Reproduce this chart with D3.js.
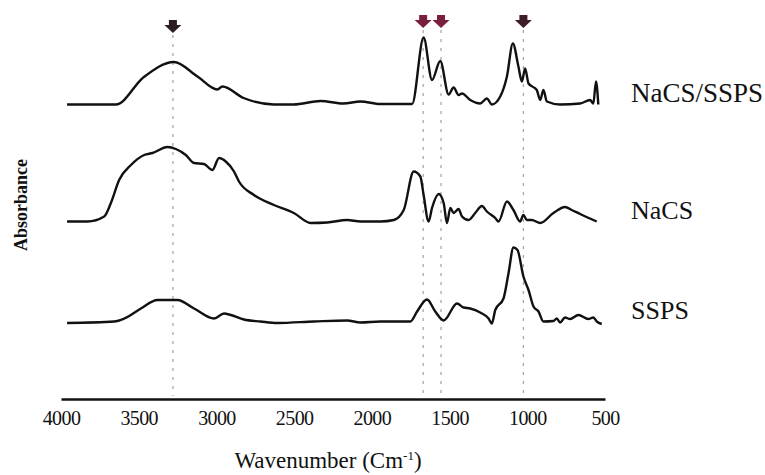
<!DOCTYPE html>
<html lang="en">
<head>
    <meta charset="UTF-8">
    <title>FTIR spectra</title>
    <script src="https://d3js.org/d3.v7.min.js"></script>
    <style>
        body {
            margin: 0;
            background: #fff;
            font-family: "Liberation Serif", "Times New Roman", serif;
        }
    </style>
</head>
<body>
    <div id="chart"></div>
    <script>
        // spectra: [wavenumber, absorbance above own baseline]
        const nacsSsps = [
            [3961, 0], [3647, 0], [3467, 2.75], [3274, 4.25], [3122, 2.8], [2994, 1.5],
            [2962, 1.8], [2825, 0.65], [2632, 0], [2504, 0], [2330, 0.35], [2183, 0.1],
            [2073, 0.3], [1945, 0.05], [1741, 0.05], [1667, 6.7], [1613, 2.45], [1560, 4.35],
            [1506, 1.0], [1474, 1.7], [1442, 0.95], [1420, 1.1], [1367, 0.45], [1303, 0.1],
            [1260, 0.6], [1228, 0], [1174, 0.8], [1131, 2.8], [1093, 6.1], [1057, 3.8],
            [1035, 2.3], [1014, 3.6], [992, 2.1], [939, 1.45], [917, 0.45], [896, 1.45],
            [874, 0.3], [789, 0], [660, 0.1], [596, 0.45], [575, 0.1], [558, 2.3], [543, 0]
        ];
        const nacs = [
            [3961, 0], [3829, 0], [3722, 0.5], [3679, 1.85], [3626, 4.15], [3550, 5.65],
            [3465, 6.65], [3411, 6.85], [3315, 7.45], [3261, 7.25], [3197, 6.65], [3144, 5.85],
            [3080, 5.75], [3026, 5.15], [2983, 6.35], [2940, 6.0], [2887, 5.0], [2855, 4.0],
            [2759, 2.65], [2630, 1.65], [2502, 0.85], [2394, -0.15], [2287, -0.1], [2159, 0.15],
            [2073, 0], [1945, 0], [1859, 0.15], [1795, 1.15], [1731, 5.0], [1688, 4.5],
            [1667, 2.65], [1635, 0], [1613, 1.35], [1570, 2.75], [1538, 1.85], [1517, -0.15],
            [1495, 1.35], [1474, 0.85], [1442, 1.25], [1420, 0.5], [1378, 0.15], [1335, 0.85],
            [1292, 1.55], [1260, 1.0], [1206, 0.35], [1185, 0], [1131, 2.0], [1089, 1.15],
            [1046, 0], [1025, 0.65], [1003, 0.15], [971, 0.15], [917, -0.15], [832, 0.85],
            [757, 1.45], [714, 1.15], [660, 0.75], [553, 0]
        ];
        const ssps = [
            [3961, -0.1], [3658, 0.05], [3593, 0.35], [3486, 1.35], [3379, 2.2], [3251, 2.2],
            [3144, 1.35], [3015, 0.35], [2951, 0.85], [2908, 0.7], [2823, 0.25], [2716, 0.05],
            [2608, -0.1], [2373, 0.05], [2159, 0.15], [2073, -0.05], [1945, 0.05], [1752, 0.05],
            [1709, 1.05], [1645, 2.25], [1592, 1.05], [1538, 0.15], [1452, 1.85], [1410, 1.45],
            [1367, 1.35], [1303, 0.95], [1249, 0.35], [1228, -0.15], [1206, 1.2], [1153, 2.35],
            [1121, 4.85], [1089, 7.45], [1063, 7.2], [1025, 4.55], [992, 3.2], [960, 1.55],
            [928, 1.05], [896, 0.05], [832, 0.1], [810, 0.35], [789, -0.05], [757, 0.45],
            [725, 0.3], [671, 0.7], [607, 0.3], [575, 0.45], [553, 0.05], [521, -0.2]
        ];

        const seriesNames = ["NaCS/SSPS", "NaCS", "SSPS"];
        const seriesOffsets = [29.45, 17.75, 7.7];
        const xTicks = [4000, 3500, 3000, 2500, 2000, 1500, 1000, 500];

        // marked bands (arrows + dotted guides)
        const markWn = [3280, 1670, 1555, 1025];
        const markTip = [36.6, 37.1, 37.1, 37.1];
        const markColor = ["#2b1d20", "#7a1f3d", "#7a1f3d", "#3f1d28"];

        const width = 765, height = 475;
        const svg = d3.select("#chart").append("svg")
            .attr("width", width)
            .attr("height", height);

        const x = d3.scaleLinear().domain([4000, 500]).range([61, 605]);
        const y = d3.scaleLinear().domain([0, 38]).range([399, 19]);

        // dotted guide lines
        svg.append("g")
            .selectAll("line")
            .data(markWn)
            .enter().append("line")
            .attr("x1", d => x(d))
            .attr("x2", d => x(d))
            .attr("y1", (d, i) => y(markTip[i]) + 2)
            .attr("y2", y(0) - 3)
            .attr("stroke", "#a8a8a8")
            .attr("stroke-width", 1.3)
            .attr("stroke-dasharray", "3,6");

        // arrows
        svg.append("g")
            .selectAll("path")
            .data(markWn)
            .enter().append("path")
            .attr("transform", (d, i) => `translate(${x(d)},${y(markTip[i])})`)
            .attr("d", "M-4,-13H4V-8H8.5L0,0L-8.5,-8H-4Z")
            .attr("fill", (d, i) => markColor[i]);

        const line = d3.line()
            .x(d => x(d[0]))
            .y(d => d[1])
            .curve(d3.curveMonotoneX);

        [nacsSsps, nacs, ssps].forEach((s, i) => {
            svg.append("path")
                .datum(s.map(d => [d[0], y(d[1] + seriesOffsets[i])]))
                .attr("fill", "none")
                .attr("stroke", "#111")
                .attr("stroke-width", 2.4)
                .attr("stroke-linejoin", "round")
                .attr("d", line);
        });

        // series labels
        svg.append("g")
            .selectAll("text")
            .data(seriesNames)
            .enter().append("text")
            .attr("x", 631)
            .attr("y", (d, i) => y(seriesOffsets[i]) - 3)
            .attr("font-family", "Liberation Serif, serif")
            .attr("font-size", (d, i) => i === 0 ? 27 : 26)
            .attr("fill", "#111")
            .text(d => d);

        // x axis
        svg.append("g")
            .attr("transform", `translate(0,${y(0)})`)
            .call(d3.axisBottom(x).tickValues(xTicks).tickFormat(d3.format("d"))
                .tickSize(0).tickPadding(12))
            .attr("font-family", "Liberation Serif, serif")
            .attr("font-size", 20)
            .call(g => g.select(".domain").attr("stroke", "#111").attr("stroke-width", 2.6))
            .call(g => g.selectAll(".tick text").attr("fill", "#111").attr("letter-spacing", "-0.6"));

        const title = svg.append("text")
            .attr("x", 328)
            .attr("y", 468)
            .attr("text-anchor", "middle")
            .attr("font-family", "Liberation Serif, serif")
            .attr("font-size", 23)
            .attr("fill", "#111")
            .text("Wavenumber (Cm");
        title.append("tspan")
            .attr("dy", -8)
            .attr("font-size", 13)
            .text("-1");
        title.append("tspan")
            .attr("dy", 8)
            .text(")");

        svg.append("text")
            .attr("transform", "translate(27,205) rotate(-90)")
            .attr("text-anchor", "middle")
            .attr("font-family", "Liberation Serif, serif")
            .attr("font-size", 18)
            .attr("font-weight", "bold")
            .attr("fill", "#111")
            .text("Absorbance");
    </script>
</body>
</html>
